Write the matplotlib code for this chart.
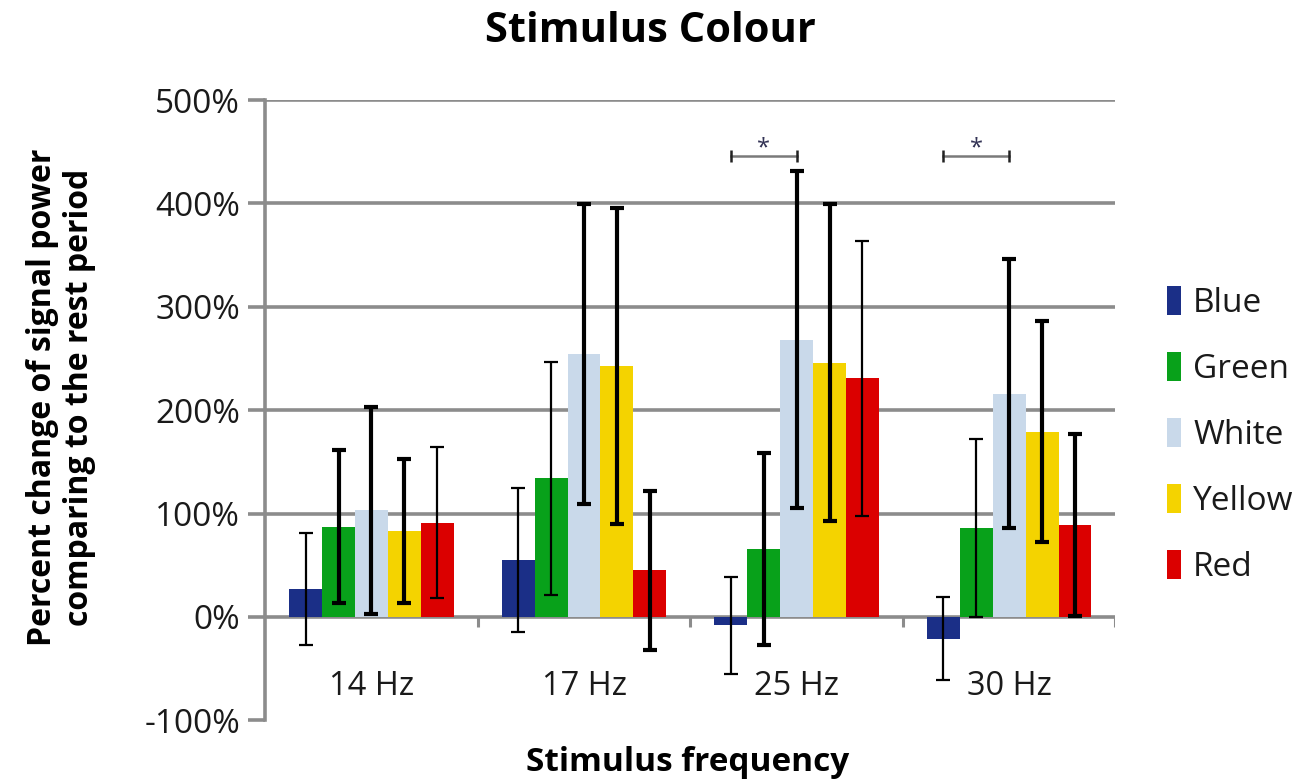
import matplotlib
matplotlib.use("Agg")
import matplotlib.pyplot as plt
import numpy as np

plt.rcParams['font.family'] = ['Open Sans', 'DejaVu Sans']

categories = ["14 Hz", "17 Hz", "25 Hz", "30 Hz"]
series = ["Blue", "Green", "White", "Yellow", "Red"]
colors = ["#1b2f87", "#08a11a", "#c9d9ea", "#f4d300", "#db0000"]

# mean values (%) per series, per category
values = {
    "Blue":   [27, 55, -8, -21],
    "Green":  [87, 134, 66, 86],
    "White":  [103, 254, 268, 216],
    "Yellow": [83, 243, 246, 179],
    "Red":    [91, 45, 231, 89],
}
# symmetric error (%) per series, per category
errors = {
    "Blue":   [54, 70, 47, 40],
    "Green":  [74, 113, 93, 86],
    "White":  [100, 145, 163, 130],
    "Yellow": [70, 153, 153, 107],
    "Red":    [73, 77, 133, 88],
}
# whether the error bar is drawn thick
thick = {
    "Blue":   [False, False, False, False],
    "Green":  [True, False, True, False],
    "White":  [True, True, True, True],
    "Yellow": [True, True, True, True],
    "Red":    [False, True, False, True],
}
yticks = [-100, 0, 100, 200, 300, 400, 500]
# significance brackets: (category index, from series, to series, height %)
signif = [(2, "Blue", "White", 446), (3, "Blue", "White", 446)]

fig = plt.figure(figsize=(13, 7.82), dpi=100)
ax = fig.add_axes([0.204, 0.079, 0.654, 0.793])

x = np.arange(len(categories))
w = 0.155
n = len(series)
grid_c = "#8c8c8c"
txt_c = "#1a1a1a"

ax.set_ylim(-100, 500)
ax.set_xlim(-0.5, len(categories) - 0.5)
ax.set_yticks(yticks)
ax.set_yticklabels([f"{t}%" for t in yticks])
for t in yticks:
    if t != -100:
        ax.axhline(t, color=grid_c, lw=2.6, zorder=0)

offsets = {}
for i, s in enumerate(series):
    off = (i - (n - 1) / 2) * w
    offsets[s] = off
    ax.bar(x + off, values[s], width=w, color=colors[i], label=s, zorder=2)
    for j in range(len(categories)):
        lw = 3.0 if thick[s][j] else 1.6
        ax.errorbar(x[j] + off, values[s][j], yerr=errors[s][j], fmt='none',
                    ecolor='black', elinewidth=lw, capsize=5, capthick=lw, zorder=3)

# category separator ticks on the zero line
ax.vlines(x[1:] - 0.5, -10, 0, color=grid_c, lw=2.2, zorder=1)
ax.vlines([x[-1] + 0.5], -10, 0, color=grid_c, lw=2.2, zorder=1)

# category labels just below zero line
for j, c in enumerate(categories):
    ax.text(x[j], -67, c, ha='center', va='center', fontsize=23.5, color=txt_c)

# significance brackets
for (ci, s1, s2, h) in signif:
    x1 = x[ci] + offsets[s1]
    x2 = x[ci] + offsets[s2]
    ax.plot([x1, x2], [h, h], color='#7a7a7a', lw=1.8, zorder=4)
    ax.vlines([x1, x2], h - 6, h + 6, color='#222222', lw=1.8, zorder=4)
    ax.text((x1 + x2) / 2, h - 4, "*", ha='center', va='bottom', fontsize=17, color='#333355')

ax.set_xticks([])
for sp in ['top', 'right', 'bottom']:
    ax.spines[sp].set_visible(False)
ax.spines['left'].set_color(grid_c)
ax.spines['left'].set_linewidth(2.6)
ax.tick_params(axis='y', length=12, width=2.6, color=grid_c, labelsize=24,
               labelcolor=txt_c, pad=6)

fig.text(0.5, 0.96, "Stimulus Colour", ha='center', va='center',
         fontsize=30, fontweight='bold', color='black')
fig.text(0.529, 0.025, "Stimulus frequency", ha='center', va='center',
         fontsize=24, fontweight='bold', color='black')
fig.text(0.047, 0.492, "Percent change of signal power\ncomparing to the rest period",
         ha='center', va='center', rotation=90, fontsize=23, fontweight='bold',
         linespacing=1.15, color='black')

leg = fig.legend(loc='center left', bbox_to_anchor=(0.898, 0.444), frameon=False,
                 fontsize=24, handlelength=0.42, handleheight=1.0, handletextpad=0.35,
                 labelspacing=0.95, borderaxespad=0, borderpad=0)
for t in leg.get_texts():
    t.set_color(txt_c)

fig.savefig("out.png", dpi=100)
